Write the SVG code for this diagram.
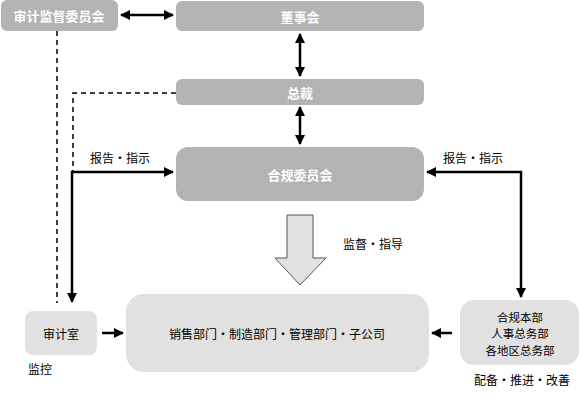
<svg xmlns="http://www.w3.org/2000/svg" width="580" height="400" viewBox="0 0 580 400">
<defs>
<marker id="ah" viewBox="0 0 10 10" refX="9" refY="5" markerWidth="4" markerHeight="4" orient="auto-start-reverse" markerUnits="strokeWidth">
<path d="M0,0 L10,5 L0,10 z" fill="#000"/>
</marker>
<style>
.dk{fill:#b3b3b3}
.lt{fill:#e1e1e1}
.wt{font-family:"Noto Sans CJK SC","Noto Sans CJK JP",sans-serif;font-size:13px;font-weight:bold;fill:#fff;text-anchor:middle;dominant-baseline:central}
.bt{font-family:"Noto Sans CJK SC","Noto Sans CJK JP",sans-serif;font-size:12px;fill:#000;text-anchor:middle;dominant-baseline:central}
.st{font-family:"Noto Sans CJK SC","Noto Sans CJK JP",sans-serif;font-size:11.5px;fill:#000;text-anchor:middle;dominant-baseline:central}
.lb{font-family:"Noto Sans CJK SC","Noto Sans CJK JP",sans-serif;font-size:12px;fill:#000;dominant-baseline:central}
.sl{fill:none;stroke:#000;stroke-width:2.5}
.dl{fill:none;stroke:#000;stroke-width:1.5;stroke-dasharray:5,4}
</style>
</defs>
<rect width="580" height="400" fill="#fff"/>
<g id="n-audit-committee"><rect class="dk" x="1" y="0" width="117" height="31" rx="6"/><text class="wt" x="59" y="15.5">审计监督委员会</text></g>
<g id="n-board"><rect class="dk" x="176" y="1" width="248" height="30" rx="6"/><text class="wt" x="300" y="16">董事会</text></g>
<g id="n-president"><rect class="dk" x="176" y="79" width="248" height="26" rx="6"/><text class="wt" x="300" y="92">总裁</text></g>
<g id="n-compliance"><rect class="dk" x="176" y="147" width="248" height="54" rx="12"/><text class="wt" x="300" y="174">合规委员会</text></g>
<g id="n-audit-office"><rect class="lt" x="25" y="311" width="72" height="44" rx="8"/><text class="bt" x="61" y="333">审计室</text></g>
<g id="n-depts"><rect class="lt" x="126" y="294" width="303" height="78" rx="18"/><text class="bt" x="277" y="333">销售部门・制造部门・管理部门・子公司</text></g>
<g id="n-hq"><rect class="lt" x="460" y="300" width="119" height="65" rx="14"/><text class="st" x="520" y="316.5">合规本部</text><text class="st" x="520" y="333">人事总务部</text><text class="st" x="520" y="349.5">各地区总务部</text></g>
<g id="connectors">
<line class="sl" x1="121" y1="15" x2="173" y2="15" marker-start="url(#ah)" marker-end="url(#ah)"/>
<line class="sl" x1="300" y1="34" x2="300" y2="76" marker-start="url(#ah)" marker-end="url(#ah)"/>
<line class="sl" x1="300" y1="107" x2="300" y2="144" marker-start="url(#ah)" marker-end="url(#ah)"/>
<polyline class="dl" points="57,31 57,303"/>
<polyline class="dl" points="176,93 73,93 73,172"/>
<polyline class="sl" points="72,302 72,172 173,172" marker-start="url(#ah)" marker-end="url(#ah)"/>
<polyline class="sl" points="427,172 521,172 521,297" marker-start="url(#ah)" marker-end="url(#ah)"/>
<line class="sl" x1="102" y1="333" x2="123" y2="333" marker-end="url(#ah)"/>
<line class="sl" x1="452" y1="333" x2="432" y2="333" marker-end="url(#ah)"/>
<path d="M287,215 H313 V258 H326 L300,285 L275,258 H287 Z" fill="#e1e1e1" stroke="#555" stroke-width="1"/>
<text class="lb" x="90" y="157">报告・指示</text>
<text class="lb" x="443" y="157">报告・指示</text>
<text class="lb" x="343" y="243">监督・指导</text>
<text class="lb" x="28" y="368">监控</text>
<text class="lb" x="474" y="379">配备・推进・改善</text>
</g>
</svg>
